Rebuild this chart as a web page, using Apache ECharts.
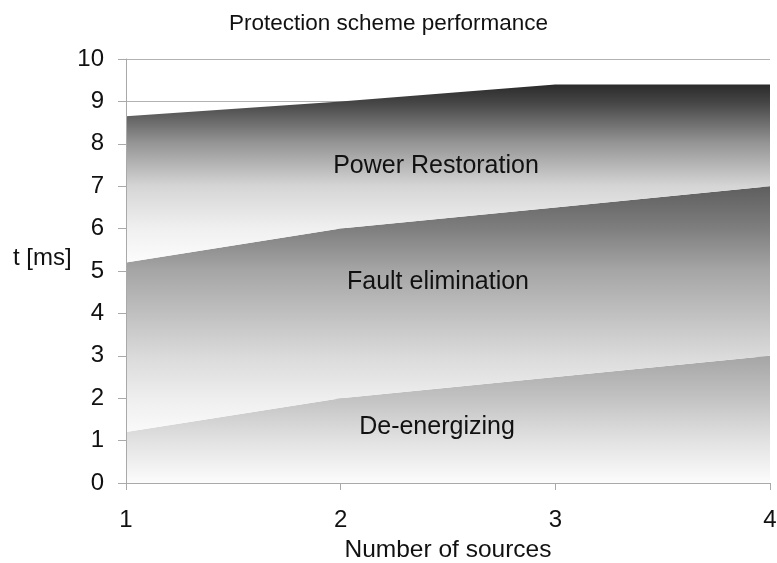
<!DOCTYPE html>
<html>
<head>
<meta charset="utf-8">
<script src="https://cdn.jsdelivr.net/npm/echarts@6/dist/echarts.min.js"></script>
<style>
  html, body { margin: 0; padding: 0; background: #fff; }
  #chart { width: 777px; height: 563px; }
</style>
</head>
<body>
<div id="chart"></div>
<script>
// Number of sources on the x axis
const sources = ['1', '2', '3', '4'];
// Time at which each phase is complete [ms]
const deEnergizing     = [1.2, 2.0, 2.5, 3.0];
const faultElimination = [5.2, 6.0, 6.5, 7.0];
const powerRestoration = [8.65, 9.0, 9.4, 9.4];
// Value axis range
const yMin = 0, yMax = 10, yStep = 1;

const FONT = "'Liberation Sans', Arial, sans-serif";

// Stacked bands: each band is the difference to the phase below it
const deBand = deEnergizing.slice();
const faultBand = faultElimination.map((v, i) => +(v - deEnergizing[i]).toFixed(3));
const powerBand = powerRestoration.map((v, i) => +(v - faultElimination[i]).toFixed(3));

function shade(stops) {
  return new echarts.graphic.LinearGradient(0, 0, 0, 1,
    stops.map(s => ({ offset: s[0], color: s[1] })));
}

function band(name, data, stops) {
  return {
    name: name,
    type: 'line',
    stack: 'phases',
    data: data,
    symbol: 'none',
    silent: true,
    lineStyle: { width: 0, opacity: 0 },
    areaStyle: { opacity: 1, color: shade(stops) }
  };
}

const chart = echarts.init(document.getElementById('chart'), null, { renderer: 'canvas' });

chart.setOption({
  animation: false,
  backgroundColor: '#ffffff',
  textStyle: { fontFamily: FONT },
  title: {
    text: 'Protection scheme performance',
    left: 'center',
    top: 7,
    textStyle: { fontFamily: FONT, fontSize: 22.5, fontWeight: 'normal', color: '#111' }
  },
  grid: {
    left: 126, right: 7, top: 59, bottom: 80,
    containLabel: false,
    outerBoundsMode: 'none'
  },
  xAxis: {
    type: 'category',
    data: sources,
    boundaryGap: false,
    z: 3,
    name: 'Number of sources',
    nameLocation: 'middle',
    nameGap: 55,
    nameTextStyle: { fontFamily: FONT, fontSize: 24.5, color: '#111' },
    axisLine: { show: true, lineStyle: { color: '#a9a9a9', width: 1 } },
    axisTick: { show: true, alignWithLabel: true, length: 7, lineStyle: { color: '#a9a9a9' } },
    axisLabel: { fontFamily: FONT, fontSize: 24, color: '#111', margin: 25 },
    splitLine: { show: false }
  },
  yAxis: {
    type: 'value',
    min: yMin,
    max: yMax,
    interval: yStep,
    z: 3,
    axisLine: { show: true, lineStyle: { color: '#a9a9a9', width: 1 } },
    axisTick: { show: true, length: 8, lineStyle: { color: '#a9a9a9' } },
    axisLabel: { fontFamily: FONT, fontSize: 24, color: '#111', margin: 22 },
    splitLine: { show: true, lineStyle: { color: 'rgba(0,0,0,0.3)', width: 1 } }
  },
  graphic: [
    { type: 'text', left: 13, top: 246,
      style: { text: 't [ms]', font: '24px ' + FONT, fill: '#111' } },
    { type: 'text', x: 436, y: 166,
      style: { text: 'Power Restoration', font: '25px ' + FONT, fill: '#111',
               textAlign: 'center', textVerticalAlign: 'middle' }, z: 10 },
    { type: 'text', x: 438, y: 282,
      style: { text: 'Fault elimination', font: '25px ' + FONT, fill: '#111',
               textAlign: 'center', textVerticalAlign: 'middle' }, z: 10 },
    { type: 'text', x: 437, y: 427,
      style: { text: 'De-energizing', font: '25px ' + FONT, fill: '#111',
               textAlign: 'center', textVerticalAlign: 'middle' }, z: 10 }
  ],
  series: [
    band('De-energizing', deBand, [
      [0, '#a5a5a5'], [0.33, '#c2c2c2'], [0.67, '#e2e2e2'], [1, '#fcfcfc']
    ]),
    band('Fault elimination', faultBand, [
      [0, '#5e5e5e'], [0.17, '#7e7e7e'], [0.34, '#a5a5a5'], [0.52, '#c0c0c0'],
      [0.69, '#dadada'], [0.86, '#eeeeee'], [1, '#fafafa']
    ]),
    band('Power Restoration', powerBand, [
      [0, '#2a2a2a'], [0.1, '#454545'], [0.33, '#959595'], [0.57, '#d5d5d5'],
      [0.81, '#f0f0f0'], [1, '#fcfcfc']
    ])
  ]
});
</script>
</body>
</html>
